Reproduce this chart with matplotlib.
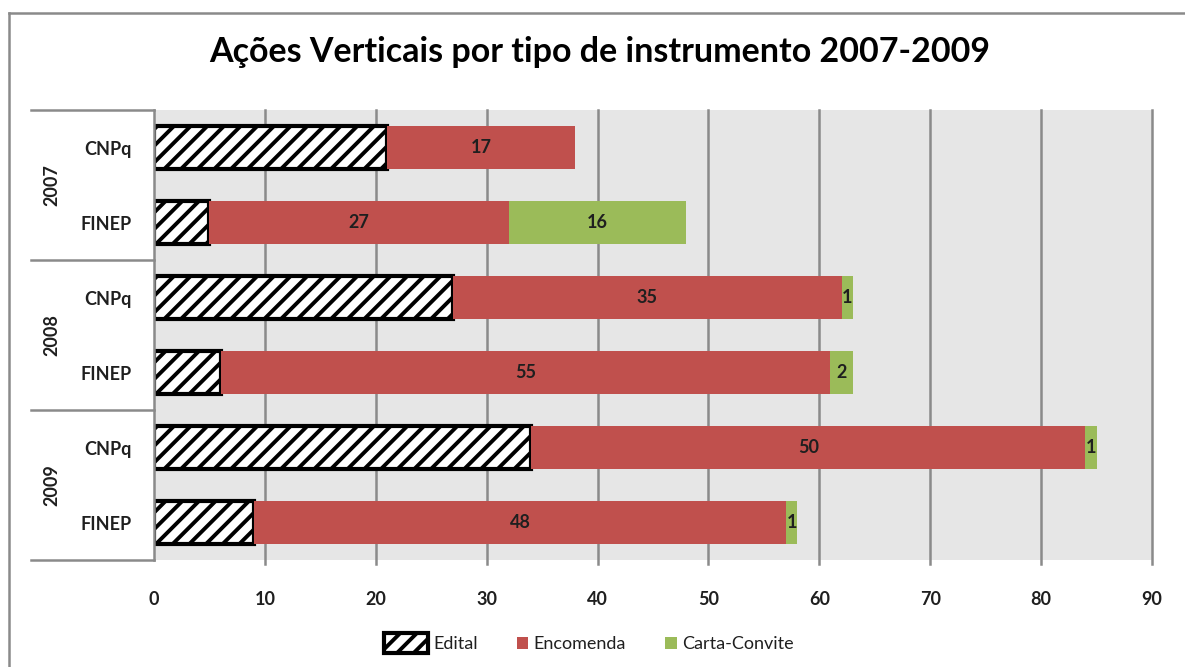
import matplotlib.pyplot as plt
import numpy as np
from matplotlib.patches import Patch, Rectangle
from matplotlib.lines import Line2D
from matplotlib.legend_handler import HandlerPatch
from matplotlib.transforms import blended_transform_factory

plt.rcParams['font.family'] = ['Lato', 'DejaVu Sans']
plt.rcParams['hatch.linewidth'] = 2.8

years = ["2007", "2008", "2009"]
orgs = ["CNPq", "FINEP", "CNPq", "FINEP", "CNPq", "FINEP"]
edital = [21, 5, 27, 6, 34, 9]
encomenda = [17, 27, 35, 55, 50, 48]
carta = [0, 16, 1, 2, 1, 1]

red = "#C0504D"
green = "#9BBB59"
grid_c = "#8a8a8a"
txt_c = "#1f1f1f"
fs = 13

fig = plt.figure(figsize=(11.85, 6.67), dpi=100)
ax = fig.add_axes([154 / 1185, 1 - 560 / 667, 998 / 1185, 450 / 667])
ax.set_facecolor("#e6e6e6")

y = np.arange(len(orgs))
h = 0.58
ax.barh(y, edital, height=h, color="white", edgecolor="black", hatch="//", linewidth=3, zorder=3)
left2 = np.array(edital)
ax.barh(y, encomenda, left=left2, height=h, color=red, zorder=3)
left3 = left2 + np.array(encomenda)
ax.barh(y, carta, left=left3, height=h, color=green, zorder=3)

for i in range(len(orgs)):
    ax.text(left2[i] + encomenda[i] / 2, y[i], str(encomenda[i]), ha="center", va="center",
            fontsize=fs, fontweight="bold", color=txt_c, zorder=4)
    if carta[i] > 0:
        ax.text(left3[i] + carta[i] / 2, y[i], str(carta[i]), ha="center", va="center",
                fontsize=fs, fontweight="bold", color=txt_c, zorder=4)

ax.set_xlim(0, 90)
ax.set_ylim(len(orgs) - 0.5, -0.5)
ax.set_xticks(np.arange(0, 91, 10))
ax.set_yticks(y)
ax.set_yticklabels(orgs)
ax.tick_params(axis="x", length=0, pad=22, labelsize=fs, labelcolor=txt_c)
ax.tick_params(axis="y", length=0, pad=16, labelsize=fs, labelcolor=txt_c)
for lab in ax.get_xticklabels() + ax.get_yticklabels():
    lab.set_fontweight("bold")

for xv in range(10, 91, 10):
    ax.plot([xv, xv], [len(orgs) - 0.5 + 0.05, -0.5], color=grid_c, lw=1.8, zorder=1, clip_on=False)

for s in ax.spines.values():
    s.set_visible(False)

# category hierarchy on the left
tr = blended_transform_factory(ax.transAxes, ax.transData)
x0 = (31 - 154) / 998
ax.plot([0, 0], [-0.5, len(orgs) - 0.5], color=grid_c, lw=1.8, transform=tr, clip_on=False, zorder=5)
for yb in [-0.5, 1.5, 3.5, 5.5]:
    ax.plot([x0, 0], [yb, yb], color=grid_c, lw=1.8, transform=tr, clip_on=False)
for k, yr in enumerate(years):
    ax.text((52 - 154) / 998, 2 * k + 0.5, yr, rotation=90, ha="center", va="center",
            fontsize=fs, fontweight="bold", color=txt_c, transform=tr)

fig.text(0.506, 0.922, "Ações Verticais por tipo de instrumento 2007-2009", ha="center", va="center",
         fontsize=24.5, fontweight="bold", color="black")

# outer frame (cropped on right and bottom)
fig.add_artist(Line2D([9 / 1185, 9 / 1185], [0, 1 - 13 / 667], transform=fig.transFigure, color=grid_c, lw=1.8))
fig.add_artist(Line2D([9 / 1185, 1], [1 - 13 / 667, 1 - 13 / 667], transform=fig.transFigure, color=grid_c, lw=1.8))


def small_square(legend, orig_handle, xdescent, ydescent, width, height, fontsize):
    s = 0.62 * fontsize
    return Rectangle((width - s - xdescent, (height - s) / 2 - ydescent), s, s)


handles = [Patch(facecolor="white", edgecolor="black", hatch="//", linewidth=3, label="Edital"),
           Patch(facecolor=red, label="Encomenda"),
           Patch(facecolor=green, label="Carta-Convite")]
sq = HandlerPatch(patch_func=small_square)
leg = fig.legend(handles=handles, loc="center", bbox_to_anchor=(0.497, 1 - 643 / 667), ncol=3,
                 frameon=False, fontsize=fs, handlelength=2.4, handleheight=1.3,
                 handletextpad=0.3, columnspacing=0.4,
                 handler_map={handles[1]: sq, handles[2]: sq})
for t in leg.get_texts():
    t.set_color(txt_c)

fig.savefig("out.png", dpi=100)
